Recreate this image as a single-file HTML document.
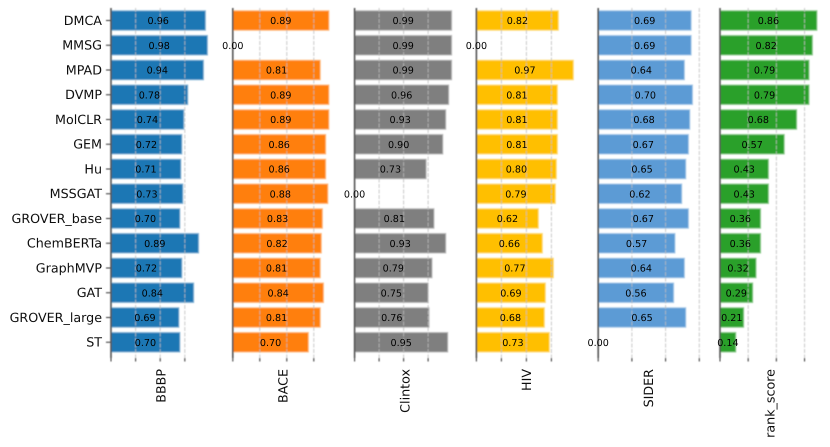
<!DOCTYPE html>
<html>
<head>
<meta charset="utf-8">
<style>
html,body{margin:0;padding:0;background:#fff;width:830px;height:447px;overflow:hidden}
svg{display:block;font-family:"DejaVu Sans","Liberation Sans",sans-serif;text-rendering:geometricPrecision}
</style>
</head>
<body>
<svg id="chart" width="830" height="447" viewBox="0 0 830 447">
<defs>
<filter id="soft" x="-5%" y="-5%" width="110%" height="110%"><feGaussianBlur stdDeviation="0.45"/></filter>
<filter id="softText" x="-5%" y="-5%" width="110%" height="110%"><feGaussianBlur stdDeviation="0.35"/></filter>
</defs>
<g id="root" filter="url(#soft)"></g>
<g id="textLayer" filter="url(#softText)"></g>
</svg>
<script>
const models = ["DMCA","MMSG","MPAD","DVMP","MolCLR","GEM","Hu","MSSGAT","GROVER_base","ChemBERTa","GraphMVP","GAT","GROVER_large","ST"];
const metrics = ["BBBP","BACE","Clintox","HIV","SIDER","rank_score"];
const bbbp = [0.96,0.98,0.94,0.78,0.74,0.72,0.71,0.73,0.70,0.89,0.72,0.84,0.69,0.70];
const bace = [0.89,0,0.81,0.89,0.89,0.86,0.86,0.88,0.83,0.82,0.81,0.84,0.81,0.70];
const clintox = [0.99,0.99,0.99,0.96,0.93,0.90,0.73,0,0.81,0.93,0.79,0.75,0.76,0.95];
const hiv = [0.82,0,0.97,0.81,0.81,0.81,0.80,0.79,0.62,0.66,0.77,0.69,0.68,0.73];
const sider = [0.69,0.69,0.64,0.70,0.68,0.67,0.65,0.62,0.67,0.57,0.64,0.56,0.65,0];
const rankScore = [0.86,0.82,0.79,0.79,0.68,0.57,0.43,0.43,0.36,0.36,0.32,0.29,0.21,0.14];
const xTicks = [0,0.25,0.5,0.75];
const domainMax = [1.016,0.926,1.02,1.0,0.742,0.887];

const seriesList = [bbbp,bace,clintox,hiv,sider,rankScore];
const colors = ["#1f77b4","#ff7f0e","#7f7f7f","#ffbf00","#5b9bd5","#2ca02c"];
const edges = ["#8fbbd9","#ffbf86","#bfbfbf","#ffdf80","#adcdea","#95cf95"];
const NS = "http://www.w3.org/2000/svg";
const root = document.getElementById("root");
const textLayer = document.getElementById("textLayer");
const axisLeft = i => 111 + i * 121.8;
const axisWidth = 100;
const scaleX = (i, v) => axisLeft(i) + v / domainMax[i] * axisWidth;
const scaleY = r => 20.5 + r * 24.75;
const barH = 19.6, spineTop = 8, spineBottom = 358;

function make(tag, attrs, parent, text) {
  const el = document.createElementNS(NS, tag);
  for (const k in attrs) el.setAttribute(k, attrs[k]);
  if (text !== undefined) el.textContent = text;
  parent.appendChild(el);
  return el;
}

models.forEach((m, r) => {
  const y = scaleY(r);
  const label = make("text", {x:102, y:y+4.4, "text-anchor":"end", "font-size":12.7, fill:"#111"}, textLayer, m);
  
  
  const tick = make("line", {x1:106, x2:111, y1:y, y2:y, stroke:"#333", "stroke-width":1}, root);
  
  
});

seriesList.forEach((series, i) => {
  const g = make("g", {}, root);
  
  
  series.forEach((v, r) => {
    const w = scaleX(i, v) - axisLeft(i);
    if (v > 0) {
      const bar = make("rect", {x:axisLeft(i), y:scaleY(r)-barH/2, width:w, height:barH, fill:colors[i], stroke:edges[i], "stroke-width":1}, g);
      
      
    }
  });
  xTicks.forEach(t => {
    const x = scaleX(i, t);
    if (t > 0) {
      const grid = make("line", {x1:x, x2:x, y1:spineTop, y2:spineBottom, stroke:"#bdbdbd", "stroke-opacity":0.8, "stroke-width":1, "stroke-dasharray":"4 1.5"}, g);
      
      
    }
    const tk = make("line", {x1:x, x2:x, y1:spineBottom, y2:spineBottom+3.5, stroke:"#333", "stroke-width":1}, g);
    
    
  });
  const spine = make("line", {x1:axisLeft(i), x2:axisLeft(i), y1:spineTop, y2:spineBottom, stroke:"#555", "stroke-width":1.6}, g);
  
  
  series.forEach((v, r) => {
    const cx = axisLeft(i) + (scaleX(i, v) - axisLeft(i)) / 2;
    const val = make("text", {x:cx, y:scaleY(r)+3.5, "text-anchor":"middle", "font-size":9.6, fill:"#000"}, textLayer, v.toFixed(2));
    
    
  });
  const cx = axisLeft(i) + 54.7;
  const title = make("text", {transform:"translate("+cx+",369) rotate(-90)", "text-anchor":"end", "font-size":12.7, fill:"#111"}, textLayer, metrics[i]);
  
  
});
</script>
</body>
</html>
